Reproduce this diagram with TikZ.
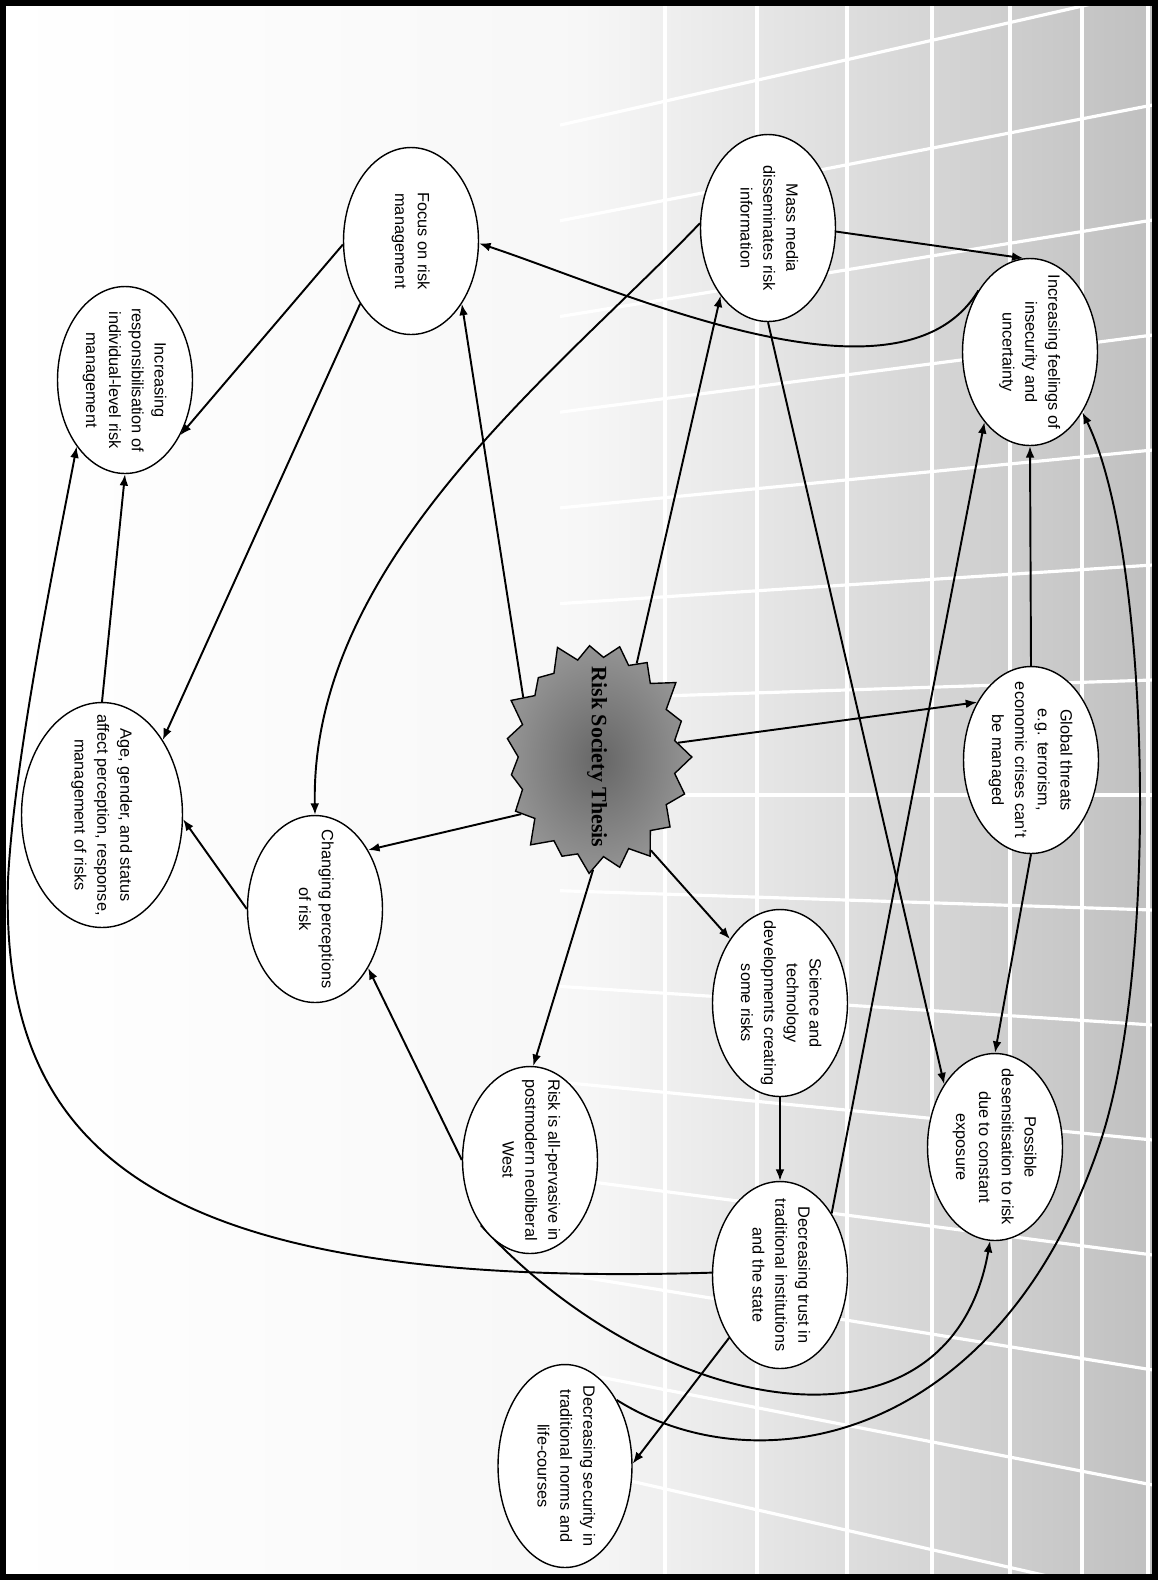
\documentclass[tikz,border=0pt]{standalone}
\usepackage{fontspec}
\setmainfont{Liberation Sans}
\newfontfamily\thesisfont{Liberation Serif}
\usetikzlibrary{shapes.geometric, shapes.symbols, arrows.meta, backgrounds}
\newcommand{\bubtext}[1]{\makebox[0pt]{\begin{tabular}{@{}c@{}}#1\end{tabular}}}
\tikzset{
  bubble/.style={ellipse, draw=black, line width=0.8pt, fill=white, rotate=-90,
    inner sep=0pt, minimum width=3.74cm, minimum height=2.7cm,
    font=\fontsize{9.3}{13}\selectfont},
  burst/.style={starburst, starburst points=19, starburst point height=0.45cm,
    draw=black, line width=0.8pt, inner color=black!60, outer color=black!42,
    rotate=-90, inner sep=0pt, minimum width=4.9cm, minimum height=4.05cm,
    font=\thesisfont\bfseries\fontsize{12.5}{14}\selectfont},
  arrow/.style={-{Latex[length=6.5pt, width=5pt]}, line width=1.1pt},
  gridline/.style={white, line width=1.8pt}
}
\begin{document}
\begin{tikzpicture}[x=0.02cm, y=-0.02cm]
\useasboundingbox (0,0) rectangle (1158,1580);

\node (star)   [burst]  at (597,757)  {\makebox[0pt]{Risk Society Thesis}};
\node (mm)     [bubble] at (768,228)  {\bubtext{Mass media\\disseminates risk\\information}};
\node (ins)    [bubble] at (1030,352) {\bubtext{Increasing feelings of\\insecurity and\\uncertainty}};
\node (focus)  [bubble] at (411,241)  {\bubtext{Focus on risk\\management}};
\node (resp)   [bubble] at (125,380)  {\bubtext{Increasing\\responsibilisation of\\individual-level risk\\management}};
\node (age)    [bubble, minimum width=4.5cm, minimum height=3.22cm] at (102,815)
               {\bubtext{Age, gender, and status\\affect perception, response,\\management of risks}};
\node (chg)    [bubble] at (315,909)  {\bubtext{Changing perceptions\\of risk}};
\node (glob)   [bubble] at (1031,760) {\bubtext{Global threats\\e.g. terrorism,\\economic crises can't\\be managed}};
\node (sci)    [bubble] at (780,1003) {\bubtext{Science and\\technology\\developments creating\\some risks}};
\node (pervas) [bubble] at (530,1160) {\bubtext{Risk is all-pervasive in\\postmodern neoliberal\\West}};
\node (trust)  [bubble] at (780,1275) {\bubtext{Decreasing trust in\\traditional institutions\\and the state}};
\node (desens) [bubble] at (995,1147) {\bubtext{Possible\\desensitisation to risk\\due to constant\\exposure}};
\node (sec)    [bubble, minimum width=4.06cm, minimum height=2.68cm] at (565,1466)
               {\bubtext{Decreasing security in\\traditional norms and\\life-courses}};

\coordinate (leftbend)  at (8,880);
\coordinate (rightbend) at (1100,1143);

% background and grid
\begin{scope}[on background layer]
\shade [left color=white, right color=black!25, middle color=black!3] (0,0) rectangle (1158,1580);
\foreach \gx in {665,757,847,932,1010,1082,1148}
  \draw [gridline] (\gx,0) -- (\gx,1580);
\foreach \k in {-7,...,7}
  \draw [gridline] (560,{795+\k*110*0.87}) -- (1158,{795+\k*110*1.047});
\end{scope}

% connectors
\begin{scope}[on background layer]
\draw [arrow] (star.231) -- (focus.39);
\draw [arrow] (star.157) -- (mm.325);
\draw [arrow] (star.307) -- (chg.138);
\draw [arrow] (star.358) -- (pervas.178);
\draw [arrow] (star.30)  -- (sci.218);
\draw [arrow] (star.100) -- (glob.223);
\draw [arrow] (mm.87)    -- (ins.184);
\draw [arrow] (mm.0)     -- (desens.219);
\draw [arrow] (mm.266) .. controls (560,370) and (310,560) .. (chg.180);
\draw [arrow] (ins.220) .. controls (900,420) and (620,290) .. (focus.88);
\draw [arrow] (glob.180) -- (ins.0);
\draw [arrow] (glob.0)   -- (desens.180);
\draw [arrow] (sci.0)    -- (trust.180);
\draw [arrow] (trust.140) -- (ins.327);
\draw [arrow] (trust.268) .. controls (150,1290) and (0,1150) .. (leftbend)
              .. controls (14,760) and (55,560) .. (resp.324);
\draw [arrow] (chg.270)   -- (age.87);
\draw [arrow] (focus.321) -- (age.141);
\draw [arrow] (focus.273) -- (resp.45);
\draw [arrow] (age.180)   -- (resp.0);
\draw [arrow] (pervas.270) -- (chg.42);
\draw [arrow] (pervas.323) .. controls (660,1420) and (950,1470) .. (desens.357);
\draw [arrow] (sec.142) .. controls (760,1490) and (1000,1440) .. (rightbend)
              .. controls (1160,965) and (1150,550) .. (ins.41);
\draw [arrow] (trust.321) -- (sec.92);
\end{scope}

\draw [line width=0.12cm] (3,3) rectangle (1155,1577);
\end{tikzpicture}
\end{document}
